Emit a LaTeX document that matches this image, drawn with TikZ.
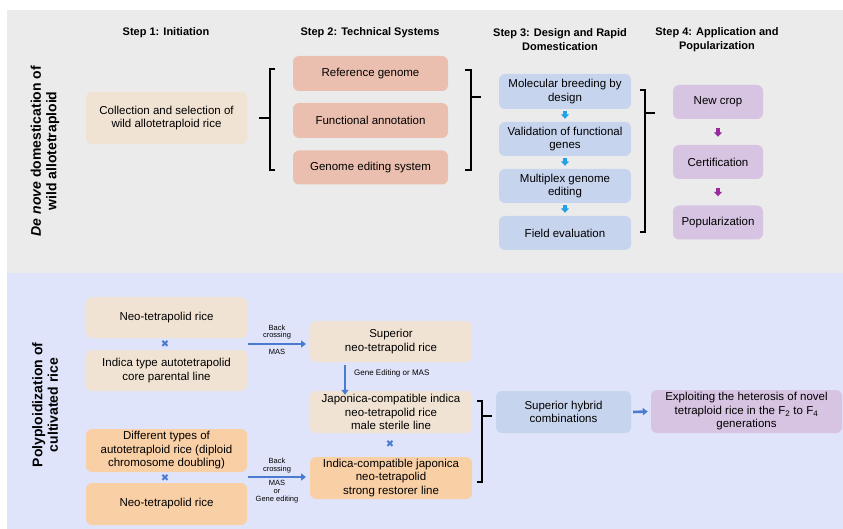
\documentclass[tikz,border=0pt]{standalone}
\usepackage{fontspec}
\setmainfont{Liberation Sans}
\newfontfamily\symfont{DejaVu Sans}
\usetikzlibrary{arrows.meta}

\definecolor{panelgray}{HTML}{EBEBEB}
\definecolor{panelblue}{HTML}{E0E4FA}
\definecolor{beige}{HTML}{F1E3D3}
\definecolor{salmon}{HTML}{EBBFB0}
\definecolor{lightblue}{HTML}{C7D4EE}
\definecolor{lavender}{HTML}{D6C4E2}
\definecolor{peach}{HTML}{F9CFA6}
\definecolor{cyanarrow}{HTML}{1FA3E6}
\definecolor{purplearrow}{HTML}{9A2A9E}
\definecolor{bluearrow}{HTML}{4A7BD1}

\begin{document}
\begin{tikzpicture}[x=1pt,y=-1pt]
\tikzset{
  cellbox/.style={rounded corners=6pt,inner sep=2pt,align=center,font=\fontsize{11.5}{13.5}\selectfont},
  steptitle/.style={align=center,font=\fontsize{11}{14}\selectfont\bfseries},
  sidetitle/.style={rotate=90,align=center,font=\fontsize{14}{15.5}\selectfont\bfseries},
  arrowlabel/.style={align=center,inner sep=0pt,font=\fontsize{7.5}{7.8}\selectfont},
  crossmark/.style={text=bluearrow,inner sep=0pt,font=\symfont\fontsize{10}{10}\selectfont},
  bracketline/.style={draw=black,line width=1.2pt},
  stubarrow/.style={line width=3.2pt,-{Triangle[length=4.5pt,width=8pt]}},
  bluelink/.style={draw=bluearrow,line width=2.6pt,-{Triangle[length=5pt,width=7pt]}}
}
\useasboundingbox (0,0) rectangle (843,529);
% panels
\fill[panelgray] (7,10) rectangle (843,273);
\fill[panelblue] (7,273) rectangle (843,529);

% top panel: de novo domestication
\node[sidetitle] (t_denovo) at (45,151) {\textit{De nove} domestication of\\wild allotetraploid};
\node[steptitle] (t_step1) at (166,33) {Step 1: Initiation};
\node[steptitle] (t_step2) at (370,33) {Step 2: Technical Systems};
\node[steptitle] (t_step3) at (560,40) {Step 3: Design and Rapid\\Domestication};
\node[steptitle] (t_step4) at (717,40) {Step 4: Application and\\Popularization};

\node[cellbox,fill=beige,minimum width=161pt,minimum height=52pt] (n_coll) at (166.5,118) {Collection and selection of\\wild allotetraploid rice};

\node[cellbox,fill=salmon,minimum width=155pt,minimum height=35pt] (n_ref) at (370.5,73.5) {Reference genome};
\node[cellbox,fill=salmon,minimum width=155pt,minimum height=35pt] (n_func) at (370.5,120.5) {Functional annotation};
\node[cellbox,fill=salmon,minimum width=155pt,minimum height=34pt] (n_edit) at (370.5,167.5) {Genome editing system};

\node[cellbox,fill=lightblue,minimum width=132pt,minimum height=35pt] (n_mol) at (565,91.5) {Molecular breeding by\\design};
\node[cellbox,fill=lightblue,minimum width=132pt,minimum height=34pt] (n_val) at (565,139) {Validation of functional\\genes};
\node[cellbox,fill=lightblue,minimum width=132pt,minimum height=34pt] (n_mult) at (565,186) {Multiplex genome\\editing};
\node[cellbox,fill=lightblue,minimum width=132pt,minimum height=34pt] (n_field) at (565,233) {Field evaluation};

\node[cellbox,fill=lavender,minimum width=90pt,minimum height=34pt] (n_new) at (718,102) {New crop};
\node[cellbox,fill=lavender,minimum width=90pt,minimum height=34pt] (n_cert) at (718,162) {Certification};
\node[cellbox,fill=lavender,minimum width=90pt,minimum height=34pt] (n_pop) at (718,222.5) {Popularization};

\draw[stubarrow,cyanarrow] ([yshift=-2pt]n_mol.south) -- ([yshift=3pt]n_val.north);
\draw[stubarrow,cyanarrow] ([yshift=-2pt]n_val.south) -- ([yshift=3pt]n_mult.north);
\draw[stubarrow,cyanarrow] ([yshift=-2pt]n_mult.south) -- ([yshift=3pt]n_field.north);
\draw[stubarrow,purplearrow] ([yshift=-9pt]n_new.south) -- ([yshift=8pt]n_cert.north);
\draw[stubarrow,purplearrow] ([yshift=-9pt]n_cert.south) -- ([yshift=9pt]n_pop.north);

% brackets
\draw[bracketline] (275,69) -- (270,69) -- (270,170) -- (275,170);
\draw[bracketline] (259,118) -- (270,118);
\draw[bracketline] (465,70) -- (471,70) -- (471,170) -- (465,170);
\draw[bracketline] (471,97) -- (481,97);
\draw[bracketline] (640,90) -- (645,90) -- (645,232) -- (640,232);
\draw[bracketline] (645,113) -- (655,113);

% bottom panel: polyploidization
\node[sidetitle] (t_poly) at (45,405) {Polyploidization of\\cultivated rice};

\node[cellbox,fill=beige,minimum width=161pt,minimum height=41pt] (n_neo1) at (166.5,317.5) {Neo-tetrapolid rice};
\node[crossmark] (x_top) at (165,344) {✖};
\node[cellbox,fill=beige,minimum width=161pt,minimum height=41pt] (n_indica) at (166.5,370.5) {Indica type autotetrapolid\\core parental line};

\node[cellbox,fill=peach,minimum width=161pt,minimum height=43pt] (n_diff) at (166.5,450.5) {Different types of\\autotetraploid rice (diploid\\chromosome doubling)};
\node[crossmark] (x_bot) at (165,478) {✖};
\node[cellbox,fill=peach,minimum width=161pt,minimum height=42pt] (n_neo2) at (166.5,504) {Neo-tetrapolid rice};

\node[cellbox,fill=beige,minimum width=162pt,minimum height=41pt] (n_sup) at (391,341.5) {Superior\\neo-tetrapolid rice};
\node[cellbox,fill=beige,minimum width=162pt,minimum height=42pt] (n_jap) at (391,412) {Japonica-compatible indica\\neo-tetrapolid rice\\male sterile line};
\node[crossmark] (x_mid) at (390,444) {✖};
\node[cellbox,fill=peach,minimum width=162pt,minimum height=42pt] (n_indc) at (391,478) {Indica-compatible japonica\\neo-tetrapolid\\strong restorer line};

\node[cellbox,fill=lightblue,minimum width=135pt,minimum height=42pt] (n_hyb) at (563.5,412) {Superior hybrid\\combinations};
\node[cellbox,fill=lavender,minimum width=191pt,minimum height=43pt] (n_expl) at (746.5,411.5) {Exploiting the heterosis of novel\\tetraploid rice in the F\textsubscript{2} to F\textsubscript{4}\\generations};

% crossing arrows
\coordinate (bc1_a) at (248,344);
\coordinate (bc1_b) at (306,344);
\coordinate (bc2_a) at (248,477);
\coordinate (bc2_b) at (306,477);
\draw[bluelink] (bc1_a) -- (bc1_b);
\draw[bluelink] (bc2_a) -- (bc2_b);
\node[arrowlabel] (l_bc1) at (277,332) {Back\\crossing};
\node[arrowlabel] (l_mas1) at (277,351.5) {MAS};
\node[arrowlabel] (l_bc2) at (277,465.5) {Back\\crossing};
\node[arrowlabel] (l_mas2) at (277,491.5) {MAS\\or\\Gene editing};

\coordinate (ge_a) at (345,365);
\draw[bluelink] (ge_a) -- ([yshift=-4pt]n_jap.north -| ge_a);
\node[arrowlabel,anchor=west,font=\fontsize{8}{9}\selectfont] (l_ge) at (354,373) {Gene Editing or MAS};

\draw[bracketline] (477,401) -- (482,401) -- (482,482) -- (477,482);
\draw[bracketline] (482,416) -- (492,416);

\draw[bluelink] ([xshift=2pt]n_hyb.east) -- ([xshift=-3pt]n_expl.west);
\end{tikzpicture}
\end{document}
